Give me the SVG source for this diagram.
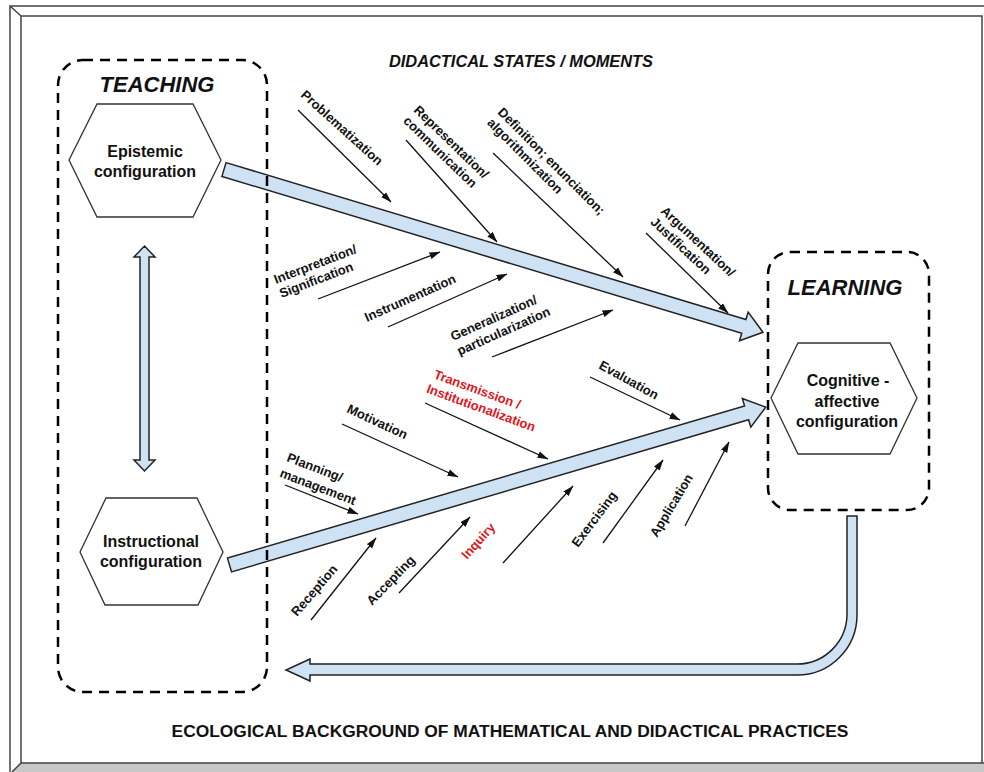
<svg xmlns="http://www.w3.org/2000/svg" width="984" height="772" viewBox="0 0 984 772">
<style>
text{font-family:"Liberation Sans",Arial,sans-serif;font-weight:bold;fill:#111}
.lbl{font-size:13px}
.red{fill:#e3151c}
.hexlbl{font-size:16px;text-anchor:middle}
.big{font-size:22px;font-style:italic;text-anchor:middle}
.frame{stroke:#444;stroke-width:1.5;fill:none}
.dash{fill:none;stroke:#000;stroke-width:2.5;stroke-dasharray:10 7}
.hex{fill:#fff;stroke:#333;stroke-width:1.3}
.blue{fill:#cfe2f3;stroke:#222;stroke-width:1.5;stroke-linejoin:miter}
.thin{stroke:#111;stroke-width:1.3;fill:none;marker-end:url(#ah)}
</style>
<defs>
<marker id="ah" markerUnits="userSpaceOnUse" markerWidth="11" markerHeight="8" refX="10.5" refY="4" orient="auto">
<path d="M0,0.5 L11,4 L0,7.5 z" fill="#111"/>
</marker>
</defs>
<rect width="984" height="772" fill="#fff"/>
<g id="frame">
<polygon points="12,772 21,763 984,763 984,772" fill="#c8c8c8"/>
<path class="frame" d="M10,772 V6 H984 M21,763 V16 H982 V763 M21,763 H984 M10,6 L21,16 M21,763 L12,772"/>
</g>
<g id="connectors">
<polygon class="blue" transform="translate(224,169.5) rotate(16.8)" points="0,-7.2 543,-7.2 543,-15 563,0 543,15 543,7.2 0,7.2"/>
<polygon class="blue" transform="translate(229.5,565) rotate(-16.4)" points="0,-7.2 539,-7.2 539,-15 559,0 539,15 539,7.2 0,7.2"/>
<polygon class="blue" points="144.5,246 155,257 149,257 149,460 155,460 144.5,471 134,460 140,460 140,257 134,257"/>
<path class="blue" d="M847,516 L857,516 L857,615 A60,60 0 0 1 797,675 L310,675 L310,681 L286,670 L310,659 L310,664 L797,664 A50,50 0 0 0 847,614 Z"/>
<line class="thin" x1="298" y1="110" x2="391" y2="202"/>
<line class="thin" x1="406" y1="140" x2="497" y2="242"/>
<line class="thin" x1="493" y1="153" x2="623" y2="277"/>
<line class="thin" x1="646" y1="233" x2="728" y2="313"/>
<line class="thin" x1="318" y1="299" x2="440" y2="252"/>
<line class="thin" x1="388" y1="327" x2="507" y2="274"/>
<line class="thin" x1="492" y1="357" x2="613" y2="310"/>
<line class="thin" x1="590" y1="377" x2="680" y2="420"/>
<line class="thin" x1="425" y1="403" x2="548" y2="459"/>
<line class="thin" x1="342" y1="424" x2="458" y2="477"/>
<line class="thin" x1="285" y1="485" x2="358" y2="514"/>
<line class="thin" x1="311" y1="620" x2="376" y2="538"/>
<line class="thin" x1="399" y1="593" x2="470" y2="517"/>
<line class="thin" x1="503" y1="563" x2="573" y2="486"/>
<line class="thin" x1="603" y1="543" x2="663" y2="460"/>
<line class="thin" x1="685" y1="526" x2="729" y2="442"/>
</g>
<g id="teaching">
<rect class="dash" x="58" y="60" width="209" height="632" rx="25"/>
<text class="big" x="157" y="92">TEACHING</text>
</g>
<g id="learning">
<rect class="dash" x="768" y="252" width="161" height="258" rx="22"/>
<text class="big" x="845" y="295">LEARNING</text>
</g>
<g id="epistemic">
<polygon class="hex" points="69,160 97,104 193,104 221,160 193,217 97,217"/>
<text class="hexlbl" x="145" y="157">Epistemic</text>
<text class="hexlbl" x="145" y="177">configuration</text>
</g>
<g id="instructional">
<polygon class="hex" points="80,552 106,498 197,498 223,552 198,605 105,605"/>
<text class="hexlbl" x="151" y="547">Instructional</text>
<text class="hexlbl" x="151" y="567">configuration</text>
</g>
<g id="cognitive">
<polygon class="hex" points="771,398 798,343 890,343 917,398 890,454 798,454"/>
<text class="hexlbl" x="848" y="386">Cognitive -</text>
<text class="hexlbl" x="847" y="407">affective</text>
<text class="hexlbl" x="847" y="427">configuration</text>
</g>
<g id="labels">
<text x="521" y="67" style="font-size:16.4px;font-style:italic;text-anchor:middle">DIDACTICAL STATES / MOMENTS</text>
<text x="510" y="737" style="font-size:17.4px;text-anchor:middle">ECOLOGICAL BACKGROUND OF MATHEMATICAL AND DIDACTICAL PRACTICES</text>
<text class="lbl" transform="translate(300,96) rotate(42)">Problematization</text>
<text class="lbl" transform="translate(413,111) rotate(44)">Representation/<tspan x="0" dy="15">communication</tspan></text>
<text class="lbl" transform="translate(497,113) rotate(45)">Definition; enunciation;<tspan x="0" dy="15">algorithmization</tspan></text>
<text class="lbl" transform="translate(660,212) rotate(43)">Argumentation/<tspan x="0" dy="15">Justification</tspan></text>
<text class="lbl" transform="translate(276,284) rotate(-21)">Interpretation/<tspan x="0" dy="15">Signification</tspan></text>
<text class="lbl" transform="translate(367,322) rotate(-24)">Instrumentation</text>
<text class="lbl" transform="translate(453,341) rotate(-24)">Generalization/<tspan x="0" dy="16">particularization</tspan></text>
<text class="lbl" transform="translate(598,368) rotate(29)">Evaluation</text>
<text class="lbl red" transform="translate(433,378) rotate(20)">Transmission /<tspan x="-2" dy="16">Institutionalization</tspan></text>
<text class="lbl" transform="translate(346,412) rotate(25)">Motivation</text>
<text class="lbl" transform="translate(286,461) rotate(21)">Planning/<tspan x="-1" dy="17">management</tspan></text>
<text class="lbl" transform="translate(297,617) rotate(-49)">Reception</text>
<text class="lbl" transform="translate(372,606) rotate(-46)">Accepting</text>
<text class="lbl red" transform="translate(467,560) rotate(-48)">Inquiry</text>
<text class="lbl" transform="translate(578,548) rotate(-53)">Exercising</text>
<text class="lbl" transform="translate(657,538) rotate(-59)">Application</text>
</g>
</svg>
